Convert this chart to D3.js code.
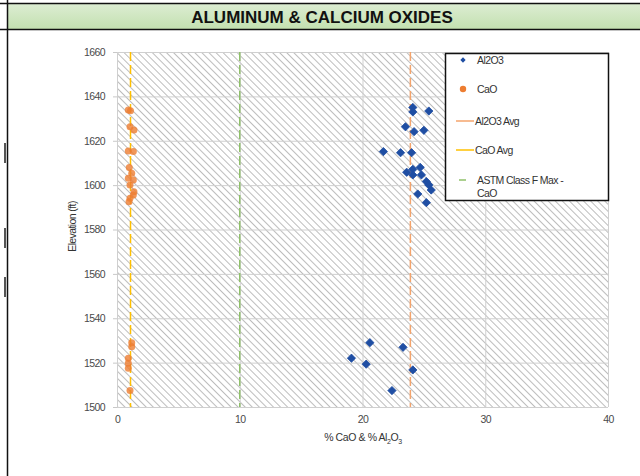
<!DOCTYPE html>
<html>
<head>
<meta charset="utf-8">
<script src="https://cdn.jsdelivr.net/npm/d3@7"></script>
<style>
  body { margin: 0; background: #fff; }
  text { font-family: "Liberation Sans", Arial, sans-serif; }
</style>
</head>
<body>
<div id="chart"></div>
<script>
// values
var al2o3X = [24.1, 24.1, 25.4, 23.5, 24.2, 25.0, 21.7, 23.1, 24.0, 23.6, 24.1, 24.7, 24.1, 24.8,
              25.2, 25.4, 25.6, 24.5, 25.2, 20.6, 23.3, 20.3, 19.1, 24.1, 22.4];
var al2o3Y = [1635, 1633, 1633.4, 1626.3, 1624.1, 1624.7, 1615.1, 1614.6, 1614.6, 1605.8, 1607.1, 1608.0, 1604.6, 1604.6,
              1601.6, 1600.1, 1597.8, 1596.0, 1592.1, 1529.0, 1526.9, 1519.3, 1522, 1516.7, 1507.4];
var caoX = [0.92, 1.1, 1.06, 1.38, 0.92, 1.33, 1.0, 1.2, 0.92, 1.33, 1.06, 1.38, 1.33, 1.06, 0.98,
            1.2, 1.2, 0.92, 0.92, 0.92, 1.06];
var caoY = [1633.9, 1633.5, 1626.3, 1624.8, 1615.4, 1615.1, 1607.9, 1605.3, 1603.1, 1602.3, 1600.1, 1597, 1595.6, 1594.1, 1592.5,
            1529, 1527.2, 1522, 1519.7, 1517.5, 1507.4];
var al2o3Avg = 23.9;
var caoAvg = 1.1;
var astmMax = 10;
var xTicks = [0, 10, 20, 30, 40];
var yTicks = [1500, 1520, 1540, 1560, 1580, 1600, 1620, 1640, 1660];
var legendNames = ["Al2O3", "CaO", "Al2O3 Avg", "CaO Avg", "ASTM Class F Max -", "CaO"];

var W = 640, H = 476;
var svg = d3.select("#chart").append("svg")
    .attr("width", W)
    .attr("height", H);

var defs = svg.append("defs");
var pat = defs.append("pattern")
    .attr("id", "hatch")
    .attr("patternUnits", "userSpaceOnUse")
    .attr("width", 5)
    .attr("height", 5)
    .attr("patternTransform", "rotate(-45)");
pat.append("line")
    .attr("x1", 0.5).attr("y1", 0)
    .attr("x2", 0.5).attr("y2", 5)
    .attr("stroke", "#b5b5b5")
    .attr("stroke-width", 0.9);

var grad = defs.append("linearGradient")
    .attr("id", "band").attr("x1", 0).attr("y1", 0).attr("x2", 0).attr("y2", 1);
grad.append("stop").attr("offset", "0%").attr("stop-color", "#dcedd2");
grad.append("stop").attr("offset", "100%").attr("stop-color", "#c3e0b0");

// title band + frame
svg.append("rect").attr("x", 8).attr("y", 4).attr("width", W - 8).attr("height", 25).attr("fill", "url(#band)");
svg.append("line").attr("x1", 0).attr("x2", W).attr("y1", 3.5).attr("y2", 3.5).attr("stroke", "#111").attr("stroke-width", 1.5);
svg.append("line").attr("x1", 0).attr("x2", W).attr("y1", 29.5).attr("y2", 29.5).attr("stroke", "#111").attr("stroke-width", 1.5);
svg.append("line").attr("x1", 7.5).attr("x2", 7.5).attr("y1", 0).attr("y2", H).attr("stroke", "#111").attr("stroke-width", 1.5);
[[143, 20], [228, 20], [277, 20]].forEach(function(m) {
  svg.append("rect").attr("x", 4).attr("y", m[0]).attr("width", 2).attr("height", m[1]).attr("fill", "#555");
});
svg.append("text")
    .attr("x", 322).attr("y", 23)
    .attr("text-anchor", "middle")
    .style("font-size", "17px")
    .style("font-weight", "bold")
    .attr("fill", "#111")
    .text("ALUMINUM & CALCIUM OXIDES");

var pLeft = 117, pRight = 608, pTop = 52, pBottom = 407;
var x = d3.scaleLinear().domain([0, 40]).range([pLeft, pRight]);
var y = d3.scaleLinear().domain([1500, 1660]).range([pBottom, pTop]);

svg.append("rect")
    .attr("x", pLeft).attr("y", pTop)
    .attr("width", pRight - pLeft).attr("height", pBottom - pTop)
    .attr("fill", "url(#hatch)");

// gridlines
svg.append("g")
    .attr("transform", "translate(0," + pBottom + ")")
    .call(d3.axisBottom(x).tickValues(xTicks).tickSize(-(pBottom - pTop)).tickFormat(""))
    .call(function(g) { g.select(".domain").remove(); })
    .selectAll("line").attr("stroke", "#cfcfcf");
svg.append("g")
    .attr("transform", "translate(" + pRight + ",0)")
    .call(d3.axisLeft(y).tickValues(yTicks).tickSize(pRight - pLeft).tickFormat(""))
    .call(function(g) { g.select(".domain").remove(); })
    .selectAll("line").attr("stroke", "#cfcfcf");

// axes labels
var yAxis = svg.append("g")
    .attr("transform", "translate(" + pLeft + ",0)")
    .call(d3.axisLeft(y).tickValues(yTicks).tickSize(4).tickPadding(8).tickFormat(d3.format("d")));
yAxis.select(".domain").remove();
yAxis.selectAll("line").attr("stroke", "#c8c8c8");
yAxis.selectAll("text").attr("fill", "#4a4a4a").style("font-size", "10.5px").style("letter-spacing", "-0.6px");

var xAxis = svg.append("g")
    .attr("transform", "translate(0," + pBottom + ")")
    .call(d3.axisBottom(x).tickValues(xTicks).tickSize(0).tickPadding(9));
xAxis.select(".domain").remove();
xAxis.selectAll("text").attr("fill", "#4a4a4a").style("font-size", "10.5px").style("letter-spacing", "-0.6px");

svg.append("text")
    .attr("transform", "translate(76," + ((pTop + pBottom) / 2 - 3) + ") rotate(-90)")
    .attr("text-anchor", "middle")
    .attr("fill", "#333")
    .style("font-size", "10.5px")
    .style("letter-spacing", "-0.6px")
    .text("Elevation (ft)");

var xt = svg.append("text")
    .attr("x", 363).attr("y", 441)
    .attr("text-anchor", "middle")
    .attr("fill", "#333")
    .style("font-size", "10.5px")
    .style("letter-spacing", "-0.4px");
xt.append("tspan").text("% CaO & % Al");
xt.append("tspan").attr("dy", 3).style("font-size", "7px").text("2");
xt.append("tspan").attr("dy", -3).text("O");
xt.append("tspan").attr("dy", 3).style("font-size", "7px").text("3");

// reference lines
function vline(v, color, dash) {
  svg.append("line")
      .attr("x1", x(v)).attr("x2", x(v))
      .attr("y1", pTop).attr("y2", pBottom)
      .attr("stroke", color)
      .attr("stroke-width", 1.5)
      .attr("stroke-dasharray", dash);
}
vline(astmMax, "#8fc06a", "9,4");
vline(caoAvg, "#ffc000", "9,4");
vline(al2o3Avg, "#f4a46c", "9,4");

// points
var diamond = d3.symbol().type(d3.symbolSquare).size(34);
svg.append("g").selectAll("path")
    .data(d3.range(al2o3X.length))
    .enter().append("path")
      .attr("d", diamond)
      .attr("transform", function(i) { return "translate(" + x(al2o3X[i]) + "," + y(al2o3Y[i]) + ") rotate(45)"; })
      .attr("fill", "#1f4ea3")
      .attr("stroke", "#1f4ea3")
      .attr("stroke-width", 0.8)
      .attr("stroke-linejoin", "round");

svg.append("g").selectAll("circle")
    .data(d3.range(caoX.length))
    .enter().append("circle")
      .attr("cx", function(i) { return x(caoX[i]); })
      .attr("cy", function(i) { return y(caoY[i]); })
      .attr("r", 3.5)
      .attr("fill", "#ed7d31")
      .attr("fill-opacity", 0.8);

// legend
var lg = svg.append("g");
lg.append("rect")
    .attr("x", 445.5).attr("y", 53.5)
    .attr("width", 163).attr("height", 147)
    .attr("fill", "#fff")
    .attr("stroke", "#111")
    .attr("stroke-width", 1.5);
var rows = [60, 89, 121, 150, 180];
lg.append("path").attr("d", d3.symbol().type(d3.symbolSquare).size(14)).attr("transform", "translate(463," + rows[0] + ") rotate(45)").attr("fill", "#1f4ea3");
lg.append("circle").attr("cx", 463).attr("cy", rows[1]).attr("r", 3.2).attr("fill", "#ed7d31");
[["#f4a46c", rows[2], 456, 474], ["#ffc000", rows[3], 456, 474], ["#8fc06a", rows[4], 459, 466]].forEach(function(l) {
  lg.append("line").attr("x1", l[2]).attr("x2", l[3]).attr("y1", l[1]).attr("y2", l[1])
      .attr("stroke", l[0]).attr("stroke-width", 1.5);
});
var textY = [rows[0], rows[1], rows[2], rows[3], rows[4], rows[4] + 13];
legendNames.forEach(function(n, i) {
  lg.append("text")
      .attr("x", i >= 2 && i <= 3 ? 475 : 477)
      .attr("y", textY[i] + 4)
      .attr("fill", "#333")
      .style("font-size", "10.5px")
      .style("letter-spacing", "-0.6px")
      .text(n);
});
</script>
</body>
</html>
